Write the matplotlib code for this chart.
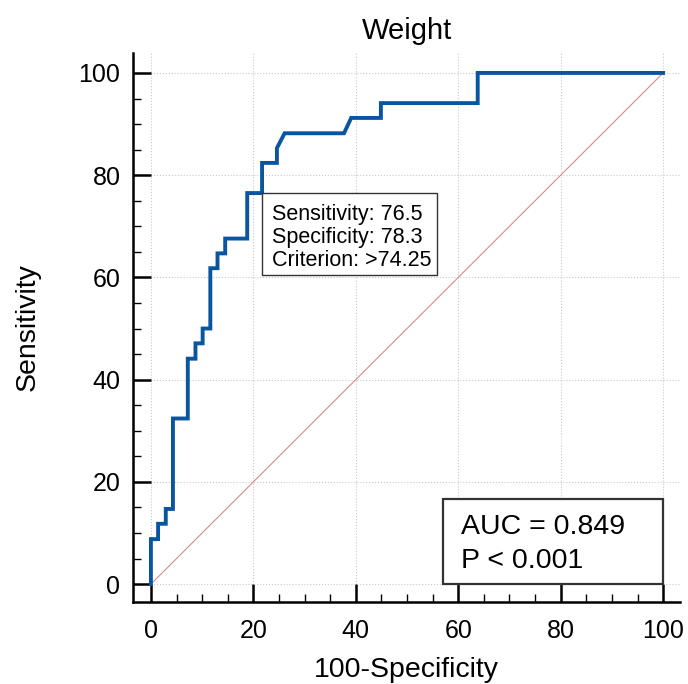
import matplotlib.pyplot as plt
from matplotlib.patches import Rectangle
from matplotlib.ticker import MultipleLocator

# ROC curve of "Weight" (percent)
fpr = [0, 0, 1.4, 1.4, 2.9, 2.9, 4.3, 4.3, 7.2, 7.2, 8.7, 8.7, 10.1, 10.1,
       11.6, 11.6, 13.0, 13.0, 14.5, 14.5, 18.8, 18.8, 21.7, 21.7, 24.6, 24.6,
       26.1, 37.7, 39.1, 44.9, 44.9, 63.8, 63.8, 100]
tpr = [0, 8.8, 8.8, 11.8, 11.8, 14.7, 14.7, 32.4, 32.4, 44.1, 44.1, 47.1, 47.1, 50.0,
       50.0, 61.8, 61.8, 64.7, 64.7, 67.6, 67.6, 76.5, 76.5, 82.4, 82.4, 85.3,
       88.2, 88.2, 91.2, 91.2, 94.1, 94.1, 100, 100]
ref_line = [0, 100]
ticks = [0, 20, 40, 60, 80, 100]

cut_x, cut_y = 21.7, 76.5
cut_lines = ["Sensitivity: 76.5", "Specificity: 78.3", "Criterion: >74.25"]
auc_lines = ["AUC = 0.849", "P < 0.001"]

plt.rcParams['font.family'] = ['Liberation Sans', 'DejaVu Sans']

fig = plt.figure(figsize=(6.88, 6.84), dpi=100)
ax = fig.add_axes([0.1933, 0.1199, 0.7951, 0.8026])

ax.plot(ref_line, ref_line, color='#d98a8a', lw=0.8, zorder=2)
ax.plot(fpr, tpr, color='#0a559f', lw=2.8, solid_joinstyle='miter', zorder=3)

ax.set_xlim(-3.5, 103.3)
ax.set_ylim(-3.5, 103.9)
ax.set_xticks(ticks)
ax.set_yticks(ticks)
ax.xaxis.set_minor_locator(MultipleLocator(5))
ax.yaxis.set_minor_locator(MultipleLocator(5))
ax.grid(True, which='major', color='#c8c8c8', ls=':', lw=0.8)
ax.set_axisbelow(True)

for s in ['top', 'right']:
    ax.spines[s].set_visible(False)
for s in ['left', 'bottom']:
    ax.spines[s].set_linewidth(1.8)

ax.tick_params(which='major', direction='in', length=13, width=1.8, labelsize=18)
ax.tick_params(axis='x', which='major', pad=12)
ax.tick_params(axis='y', which='major', pad=9)
ax.tick_params(which='minor', direction='in', length=6, width=1.0)

ax.set_title("Weight", fontsize=21, pad=10)
ax.set_xlabel("100-Specificity", fontsize=20.5, labelpad=10)
ax.set_ylabel("Sensitivity", fontsize=20.5, labelpad=27)

# criterion box
ax.add_patch(Rectangle((cut_x, 60.5), 55.9 - cut_x, cut_y - 60.5, facecolor='white',
                       edgecolor='#333333', lw=1.0, zorder=4))
for i, line in enumerate(cut_lines):
    ax.text(23.6, 71.2 - 4.5 * i, line, fontsize=15.5, va='baseline', ha='left', zorder=5)

# AUC box
ax.add_patch(Rectangle((57.0, 0), 43.0, 16.6, facecolor='white',
                       edgecolor='#333333', lw=1.6, zorder=4))
for i, line in enumerate(auc_lines):
    ax.text(60.5, 9.8 - 6.7 * i, line, fontsize=20.5, va='baseline', ha='left', zorder=5)

fig.savefig("out.png", dpi=100)
